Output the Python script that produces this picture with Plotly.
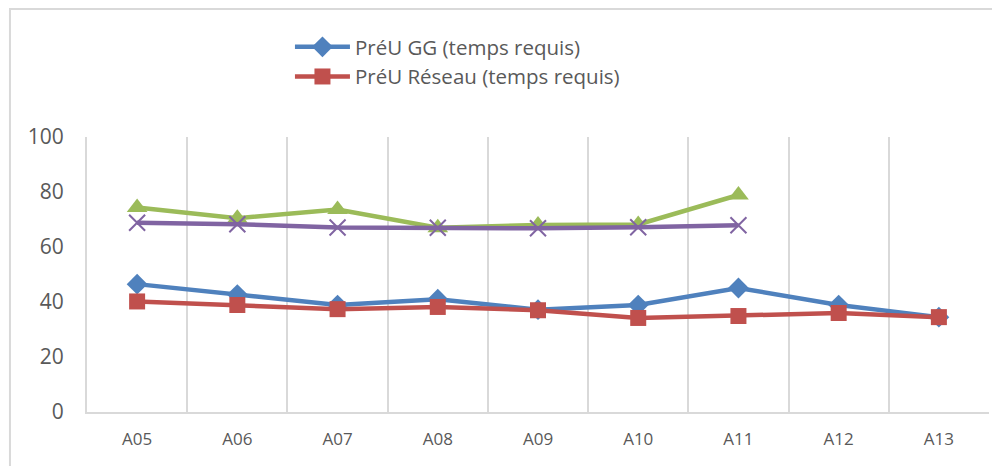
import plotly.graph_objects as go

categories = ["A05", "A06", "A07", "A08", "A09", "A10", "A11", "A12", "A13"]
gg_values = [46.5, 42.7, 38.9, 41.0, 37.2, 38.9, 45.1, 38.9, 34.5]
reseau_values = [40.2, 38.9, 37.4, 38.2, 37.0, 34.2, 34.9, 36.0, 34.5]
green_values = [74.4, 70.5, 73.6, 67.0, 68.0, 68.2, 78.9, None, None]
purple_values = [68.8, 68.3, 67.1, 67.0, 66.8, 67.2, 67.9, None, None]
yticks = [0, 20, 40, 60, 80, 100]

fig = go.Figure()
fig.add_trace(go.Scatter(x=categories, y=gg_values, mode="lines+markers",
                         name="PréU GG (temps requis)",
                         line=dict(color="#4F81BD", width=4.5),
                         marker=dict(symbol="diamond", size=16, color="#4F81BD")))
fig.add_trace(go.Scatter(x=categories, y=reseau_values, mode="lines+markers",
                         name="PréU Réseau (temps requis)",
                         line=dict(color="#C0504D", width=4.5),
                         marker=dict(symbol="square", size=16, color="#C0504D")))
fig.add_trace(go.Scatter(x=categories, y=green_values, mode="lines+markers",
                         showlegend=False,
                         line=dict(color="#9BBB59", width=4.5),
                         marker=dict(symbol="triangle-up", size=18, color="#9BBB59")))
fig.add_trace(go.Scatter(x=categories, y=purple_values, mode="lines+markers",
                         showlegend=False,
                         line=dict(color="#8064A2", width=4.5),
                         marker=dict(symbol="x-thin", size=16,
                                     line=dict(color="#8064A2", width=2))))

fig.update_layout(
    width=992, height=458,
    margin=dict(l=79, r=11, t=129, b=54),
    paper_bgcolor="white", plot_bgcolor="white",
    font=dict(family="Open Sans", color="#595959"),
    showlegend=True,
    legend=dict(x=0.225, y=1.40, xanchor="left", yanchor="top",
                font=dict(size=20.5, color="#595959"), itemwidth=55,
                bgcolor="rgba(0,0,0,0)", tracegroupgap=0),
    xaxis=dict(type="category", tickson="boundaries", showgrid=True,
               gridcolor="#D9D9D9", gridwidth=2, showline=True,
               linecolor="#D9D9D9", linewidth=2, ticks="",
               tickfont=dict(size=17, color="#595959"), ticklabelstandoff=11,
               range=[-0.5, 8.5]),
    yaxis=dict(range=[0, 100], tickvals=yticks, showgrid=False,
               showline=True, linecolor="#D9D9D9", linewidth=2,
               zeroline=False, ticks="", ticklabelstandoff=17,
               tickfont=dict(size=21, color="#595959")),
    shapes=[dict(type="rect", xref="paper", yref="paper",
                 x0=-0.0854, x1=1.3, y0=-0.5, y1=1.4655,
                 line=dict(color="#D9D9D9", width=2), layer="below")],
)

fig.write_html("out.html")
